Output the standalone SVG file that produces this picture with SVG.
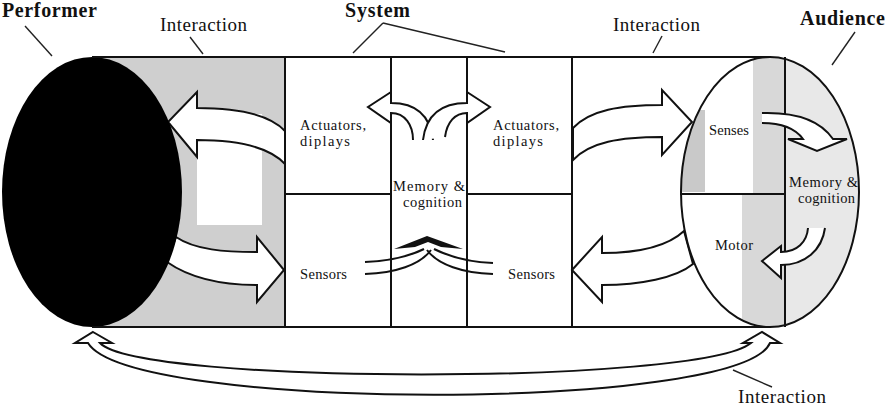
<svg xmlns="http://www.w3.org/2000/svg" width="890" height="406" viewBox="0 0 890 406">
<style>
.ln{stroke:#111;stroke-width:2;fill:none}
.ld{stroke:#222;stroke-width:1.4;fill:none}
.ar{stroke:#111;stroke-width:2;fill:#fff;stroke-linejoin:miter}
.t{font-family:"Liberation Serif","Times New Roman",serif;font-size:14.5px;fill:#111}
.big{font-family:"Liberation Serif","Times New Roman",serif;font-size:19px;fill:#111}
.b{font-weight:bold;font-size:20px}
</style>
<defs>
<clipPath id="audClip"><ellipse cx="770" cy="192" rx="89" ry="135"/></clipPath>
</defs>
<rect width="890" height="406" fill="#fff"/>

<g id="interaction-left">
<rect x="92" y="57" width="193" height="270" fill="#cfcfcf"/>
<rect x="197" y="114" width="65" height="111" fill="#fff"/>
</g>

<g id="connectors">
<path class="ar" d="M285,131 C272,117 245,108 197,108 L197,92 L168,122 L197,157 L197,140 C245,140 272,150 285,164 Z"/>
<path class="ar" d="M176,237 C195,250 225,252 257,252 L257,237 L284,270 L257,302 L257,285 C220,285 190,278 167,262 Z"/>
<path class="ar" d="M573,128 C590,110 620,105 662,105 L662,90 L692,122 L662,155 L662,137 C620,137 590,142 573,160 Z"/>
<path class="ar" d="M572,270 L602,237 L602,253 C640,253 668,246 684,231 L693,264 C676,278 640,285 602,285 L602,302 Z"/>
<path class="ar" d="M93,332 L112,343 L100,343 C140,385 700,385 751,343 L743,343 L762,332 L780,343 L770,343 C740,412 130,412 88,343 L75,343 Z"/>
</g>

<g id="performer">
<ellipse cx="92" cy="192" rx="90" ry="135" fill="#000"/>
</g>

<g id="audience">
<ellipse cx="770" cy="192" rx="89" ry="135" fill="#fff"/>
<g clip-path="url(#audClip)">
<rect x="785" y="57" width="80" height="270" fill="#e8e8e8"/>
<rect x="753" y="57" width="32" height="137" fill="#d8d8d8"/>
<rect x="680" y="110" width="25" height="82" fill="#c9c9c9"/>
<rect x="742" y="194" width="43" height="133" fill="#d8d8d8"/>
</g>
<ellipse cx="770" cy="192" rx="89" ry="135" class="ln"/>
<line class="ln" x1="785" y1="57" x2="785" y2="327"/>
<line class="ln" x1="680" y1="194" x2="785" y2="194"/>
<path class="ar" d="M762,113 C795,112 820,120 833,139 L847,139 L817,151 L788,139 L803,139 C795,128 780,123 762,123"/>
<path class="ar" d="M808,228 C807,242 797,252 781,252 L781,246 L762,261 L781,278 L781,265 C805,265 822,250 825,228"/>
<text class="t" x="709" y="135" textLength="40">Senses</text>
<text class="t" x="789" y="187" textLength="69">Memory &amp;</text>
<text class="t" x="798" y="203" textLength="57">cognition</text>
<text class="t" x="715" y="250" textLength="38">Motor</text>
</g>

<g id="band">
<line class="ln" x1="92" y1="57" x2="770" y2="57"/>
<line class="ln" x1="92" y1="327" x2="770" y2="327"/>
</g>

<g id="system">
<line class="ln" x1="285" y1="57" x2="285" y2="327"/>
<line class="ln" x1="391" y1="57" x2="391" y2="327"/>
<line class="ln" x1="467" y1="57" x2="467" y2="327"/>
<line class="ln" x1="572" y1="57" x2="572" y2="327"/>
<line class="ln" x1="285" y1="194" x2="391" y2="194"/>
<line class="ln" x1="467" y1="194" x2="572" y2="194"/>
</g>

<g id="system-arrows">
<path class="ar" d="M433,140 C430,115 415,103 391,103 L391,92 L368,107 L391,123 L391,113 C405,113 413,125 413,140"/>
<path class="ar" d="M423,140 C426,115 441,103 467,103 L467,92 L490,107 L467,123 L467,113 C455,113 447,122 445,137"/>
<path class="ln" d="M365,262 C390,261 410,256 424,249"/>
<path class="ln" d="M365,274 C395,273 420,265 431,250"/>
<path class="ln" d="M493,263 C468,262 448,256 434,249"/>
<path class="ln" d="M493,274 C463,273 438,265 427,250"/>
<path d="M394,249 L427,236 L463,249 L441,247 L428,242 L415,247 Z" fill="#111"/>
</g>

<g id="actuators-left"><text class="t" x="300" y="130" textLength="66">Actuators,</text><text class="t" x="300" y="146" textLength="50">diplays</text></g>
<g id="actuators-right"><text class="t" x="493" y="130" textLength="66">Actuators,</text><text class="t" x="493" y="146" textLength="50">diplays</text></g>
<g id="memory-system"><text class="t" x="393" y="191" textLength="72">Memory &amp;</text><text class="t" x="403" y="207" textLength="59">cognition</text></g>
<g id="sensors-left"><text class="t" x="300" y="279" textLength="47">Sensors</text></g>
<g id="sensors-right"><text class="t" x="508" y="279" textLength="47">Sensors</text></g>

<g id="labels">
<text class="big b" x="2" y="17" textLength="95">Performer</text>
<line class="ld" x1="25" y1="26" x2="52" y2="56"/>
<text class="big" x="160" y="31" textLength="87">Interaction</text>
<line class="ld" x1="190" y1="37" x2="203" y2="54"/>
<text class="big b" x="345" y="17" textLength="65">System</text>
<line class="ld" x1="383" y1="23" x2="353" y2="53"/>
<line class="ld" x1="383" y1="23" x2="505" y2="52"/>
<text class="big" x="613" y="31" textLength="87">Interaction</text>
<line class="ld" x1="662" y1="36" x2="653" y2="53"/>
<text class="big b" x="800" y="25" textLength="85">Audience</text>
<line class="ld" x1="855" y1="32" x2="832" y2="65"/>
<text class="big" x="738" y="403" textLength="88">Interaction</text>
<line class="ld" x1="733" y1="370" x2="772" y2="387"/>
</g>
</svg>
